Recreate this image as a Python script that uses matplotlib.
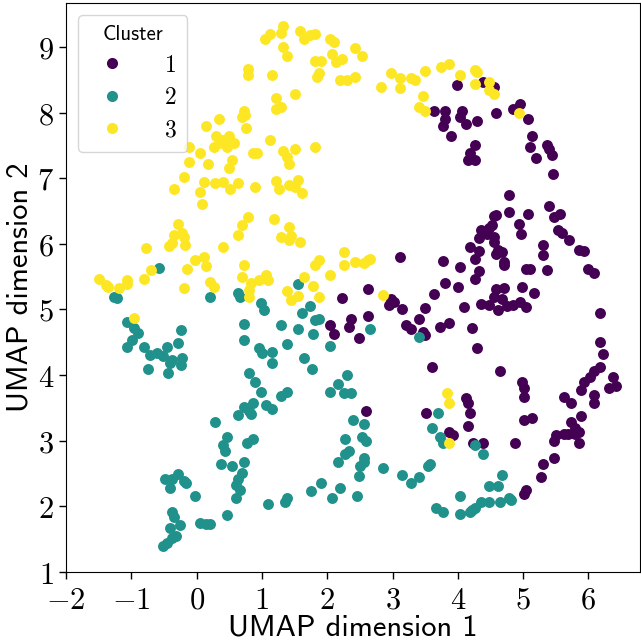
import matplotlib
matplotlib.use("Agg")
import matplotlib.pyplot as plt
from matplotlib.lines import Line2D
from matplotlib.ticker import FuncFormatter, MultipleLocator

# Cluster 1 (purple)
x1 = [3.63, 3.80, 3.80, 3.77, 3.98, 4.39, 4.56, 4.96, 4.85, 5.08, 4.06, 4.03, 4.12, 4.30, 4.58,
      3.90, 5.14, 5.11, 5.36, 5.40, 5.45, 5.20, 4.27, 4.19, 4.16, 4.26, 5.46, 4.79, 5.40, 4.79,
      5.08, 4.55, 4.59, 4.52, 4.48, 4.36, 4.41, 4.33, 4.45, 4.56, 4.56, 4.93, 4.97, 5.48, 5.56,
      5.54, 5.60, 5.71, 5.31, 5.31, 5.85, 5.94, 4.19, 4.33, 4.27, 4.62, 4.67, 4.59, 4.70, 4.70,
      4.03, 4.33, 4.26, 5.04, 5.10, 5.36, 6.00, 6.08, 4.00, 4.59, 4.70, 4.99, 5.16, 4.56, 4.67,
      4.48, 4.62, 4.75, 4.85, 4.96, 5.04, 4.35, 4.10, 3.87, 4.22, 6.17, 6.18, 6.23, 4.29, 4.65,
      4.99, 5.01, 5.02, 6.17, 6.09, 6.02, 5.94, 5.88, 6.38, 6.32, 6.43, 3.11, 3.77, 3.81, 2.63,
      2.23, 2.97, 3.02, 2.94, 3.15, 3.49, 3.63, 2.37, 2.34, 2.62, 2.48, 2.04, 2.10, 3.40, 3.21,
      3.29, 3.47, 3.49, 3.73, 3.60, 2.60, 3.51, 3.86, 4.12, 4.16, 4.18, 4.15, 3.93, 4.24, 4.39,
      4.87, 5.01, 5.13, 5.62, 5.74, 6.08, 6.09, 5.88, 5.74, 5.79, 5.51, 5.48, 5.62, 5.69, 5.79,
      5.85, 5.85, 5.48, 5.31, 5.28, 5.05, 5.01]
y1 = [8.03, 8.02, 7.90, 7.79, 8.42, 8.46, 8.39, 8.13, 8.05, 7.91, 8.02, 7.93, 7.83, 7.87, 7.99,
      7.64, 7.64, 7.48, 7.51, 7.44, 7.36, 7.31, 7.51, 7.39, 7.28, 7.28, 7.07, 6.75, 6.58, 6.49,
      6.46, 6.43, 6.44, 6.29, 6.24, 6.21, 6.17, 6.09, 6.15, 6.11, 6.03, 6.31, 6.15, 6.41, 6.46,
      6.21, 6.17, 6.06, 5.98, 5.83, 5.91, 5.89, 5.95, 5.89, 5.77, 5.91, 5.88, 5.85, 5.72, 5.68,
      5.65, 5.59, 5.46, 5.62, 5.62, 5.60, 5.62, 5.56, 5.34, 5.31, 5.33, 5.34, 5.25, 5.19, 5.16,
      5.07, 4.99, 5.05, 5.07, 5.11, 5.04, 5.08, 5.04, 4.79, 4.72, 4.94, 4.50, 4.32, 4.41, 4.06,
      3.89, 3.80, 3.66, 4.12, 4.07, 3.97, 3.89, 3.78, 3.97, 3.80, 3.83, 5.80, 5.74, 5.40, 5.31,
      5.17, 5.16, 5.11, 5.07, 5.01, 5.02, 5.24, 4.85, 4.73, 4.90, 4.56, 4.76, 4.62, 4.85, 4.76,
      4.70, 4.65, 4.61, 4.73, 4.13, 3.45, 3.43, 3.13, 3.65, 3.58, 3.42, 3.23, 3.08, 2.96, 2.97,
      2.96, 3.31, 3.34, 3.66, 3.57, 3.69, 3.58, 3.37, 3.29, 3.20, 3.09, 3.00, 3.11, 3.11, 3.11,
      2.97, 3.13, 2.74, 2.65, 2.45, 2.25, 2.19]

# Cluster 2 (teal)
x2 = [-0.57, -1.27, -1.22, 0.21, 0.64, 0.66, -1.06, -0.96, -0.89, -0.99, -1.06, -0.24, -0.29, -0.46, -0.81,
      -0.72, -0.61, -0.51, -0.38, -0.23, -0.24, -0.40, -0.75, -0.44, 0.73, 0.73, 0.80, 0.89, 1.55, 1.73,
      1.62, 1.81, 1.87, 1.30, 1.55, 1.78, 0.98, 1.03, 2.04, 1.39, 0.96, 1.15, 1.15, 1.00, 1.65,
      1.76, 2.66, 2.30, 2.17, 2.04, 2.25, 2.37, 1.38, 1.30, 3.41, 0.98, 1.07, 1.15, 0.87, 3.70,
      3.60, 3.72, 3.78, 2.40, 2.56, 2.27, 2.53, 2.60, 2.34, 2.27, 2.16, 2.56, 2.56, 2.50, 2.48,
      2.85, 3.15, 3.28, 3.41, 3.55, 3.58, 1.90, 1.75, 2.19, 2.08, 2.46, 1.10, 1.36, 1.39, 3.67,
      3.78, 4.27, 4.38, 4.67, 4.62, 4.47, 4.03, 4.03, 4.36, 4.47, 4.64, 4.79, 4.82, 4.21, 4.26,
      4.18, 0.87, 0.73, 0.80, 0.84, 0.64, 0.28, 0.47, 0.41, 0.44, 0.77, 0.38, 0.54, 0.72, 0.70,
      0.64, 0.61, 0.66, 0.60, -0.49, -0.38, -0.28, -0.20, -0.17, -0.41, -0.02, 0.46, 0.05, 0.14,
      0.20, -0.37, -0.34, -0.26, -0.41, -0.31, -0.38, -0.46, -0.51]
y2 = [5.63, 5.19, 5.17, 5.19, 5.25, 5.19, 4.81, 4.72, 4.64, 4.53, 4.43, 4.68, 4.49, 4.43, 4.43,
      4.30, 4.33, 4.29, 4.23, 4.26, 4.15, 4.18, 4.10, 4.03, 4.78, 4.53, 4.03, 3.89, 5.39, 5.05,
      4.94, 4.84, 4.85, 4.76, 4.70, 4.62, 5.10, 4.99, 4.44, 4.47, 4.41, 4.35, 4.18, 4.33, 4.26,
      4.10, 4.70, 4.00, 3.87, 3.74, 3.72, 3.72, 3.74, 3.68, 4.58, 3.74, 3.54, 3.48, 3.03, 3.42,
      3.19, 3.05, 2.96, 3.31, 3.26, 3.03, 3.05, 3.00, 2.85, 2.80, 2.67, 2.73, 2.67, 2.62, 2.47,
      2.59, 2.48, 2.35, 2.44, 2.62, 2.65, 2.36, 2.24, 2.28, 2.13, 2.16, 2.04, 2.07, 2.13, 1.98,
      1.92, 2.93, 2.80, 2.48, 2.31, 2.31, 2.16, 1.89, 2.07, 2.07, 2.07, 2.12, 2.09, 1.95, 1.98,
      1.92, 3.58, 3.51, 3.45, 3.40, 3.39, 3.28, 3.05, 2.94, 2.85, 2.97, 2.65, 2.61, 2.68, 2.51,
      2.42, 2.33, 2.25, 2.12, 2.41, 2.42, 2.50, 2.39, 2.35, 2.28, 2.16, 1.87, 1.75, 1.73,
      1.73, 1.92, 1.84, 1.72, 1.67, 1.55, 1.52, 1.44, 1.40]

# Cluster 3 (yellow)
x3 = [0.79, 0.78, 0.73, 0.70, 0.74, 0.75, 0.34, 0.14, 0.29, 0.41, 0.49, 0.35, 0.58, 0.26, 0.46,
      -0.11, 0.05, 0.86, -0.11, 0.18, 0.54, 0.49, -0.20, -0.35, 0.12, 0.05, 0.28, 0.41, 0.64, 0.51,
      0.90, 1.12, 1.04, 1.33, 1.30, 1.58, 1.65, 1.81, 1.73, 2.04, 2.11, 1.33, 1.39, 2.07, 2.14,
      2.23, 1.81, 1.91, 2.43, 2.54, 1.15, 1.87, 1.85, 2.19, 2.31, 2.43, 1.22, 1.50, 1.22, 1.30,
      1.12, 0.92, 1.33, 1.39, 1.41, 1.50, 1.81, 1.21, 1.26, 1.42, 1.56, 1.50, 1.62, 2.98, 3.12,
      3.12, 3.28, 3.34, 3.49, 3.75, 2.83, 3.46, 3.41, 3.49, 3.87, 4.03, 4.27, 4.30, 4.26, 4.47,
      4.48, 4.55, 4.93, 0.09, 0.78, 0.69, 0.63, -0.29, -0.35, -0.23, -0.20, -0.18, -0.43, -0.38,
      -0.77, 0.41, 0.12, -0.03, 0.14, -0.15, -0.70, -0.81, -1.50, -1.39, -1.36, -1.19, -1.06, -1.06,
      0.72, 0.70, 0.21, 0.26, -0.20, 0.84, 0.81, 0.80, -0.96, 1.19, 1.42, 1.30, 1.42, 1.45, 1.59,
      2.25, 2.25, 2.42, 2.57, 2.66, 2.63, 1.87, 1.82, 2.04, 1.65, 1.79, 1.88, 1.07, 1.10, 0.95,
      1.39, 1.55, 1.45, 2.85, 3.87, 3.83, 3.87]
y3 = [8.66, 8.58, 8.03, 7.94, 7.96, 7.76, 7.90, 7.80, 7.65, 7.59, 7.65, 7.54, 7.53, 7.47, 7.48,
      7.47, 7.39, 7.39, 7.25, 7.21, 7.28, 7.15, 7.02, 6.83, 6.95, 6.79, 6.93, 6.95, 6.92, 6.83,
      6.87, 9.20, 9.12, 9.32, 9.21, 9.24, 9.12, 9.20, 9.18, 9.12, 9.07, 9.00, 8.86, 8.89, 8.77,
      8.81, 8.78, 8.78, 8.98, 8.86, 8.58, 8.61, 8.54, 8.49, 8.49, 8.55, 8.23, 8.28, 8.05, 8.08,
      7.59, 7.39, 7.41, 7.33, 7.22, 7.45, 7.47, 6.96, 6.83, 6.90, 6.98, 6.87, 6.78, 8.61, 8.52,
      8.37, 8.52, 8.49, 8.63, 8.69, 8.39, 8.25, 8.09, 8.02, 8.74, 8.57, 8.65, 8.62, 8.43, 8.46,
      8.35, 8.28, 7.99, 6.60, 6.41, 6.29, 6.14, 6.31, 6.14, 6.17, 6.11, 5.98, 5.97, 6.02,
      5.94, 5.95, 5.80, 5.76, 5.66, 5.62, 5.60, 5.46, 5.46, 5.37, 5.34, 5.33, 5.45, 5.39,
      5.68, 5.50, 5.42, 5.34, 5.33, 5.40, 5.30, 5.19, 4.87, 6.38, 6.26, 6.11, 6.06, 6.12, 6.03,
      5.88, 5.68, 5.72, 5.71, 5.77, 5.76, 5.76, 5.68, 5.53, 5.50, 5.36, 5.19, 5.53, 5.45, 5.45,
      5.28, 5.20, 5.14, 5.22, 3.57, 3.72, 2.96]

cluster_labels = ["1", "2", "3"]
colors = ["#440154", "#21918c", "#fde725"]

plt.rcParams["mathtext.fontset"] = "cm"

fig = plt.figure(figsize=(6.41, 6.42), dpi=100)
ax = fig.add_axes([66 / 641, 70 / 642, 574 / 641, 569 / 642])

for xs, ys, c in zip([x1, x2, x3], [y1, y2, y3], colors):
    ax.scatter(xs, ys, s=62, color=c, linewidths=0, zorder=2)

ax.set_xlim(-2, 6.79)
ax.set_ylim(1, 9.67)
ax.xaxis.set_major_locator(MultipleLocator(1))
ax.yaxis.set_major_locator(MultipleLocator(1))
fmt = FuncFormatter(lambda v, p: "$%d$" % round(v))
ax.xaxis.set_major_formatter(fmt)
ax.yaxis.set_major_formatter(fmt)
ax.tick_params(labelsize=22, length=5, width=1)
ax.tick_params(axis="x", pad=5)

ax.set_xlabel("UMAP dimension 1", fontfamily="cmss10", fontsize=22, labelpad=0)
ax.set_ylabel("UMAP dimension 2", fontfamily="cmss10", fontsize=22, labelpad=3)

handles = [Line2D([], [], marker="o", linestyle="", markersize=8, markerfacecolor=c,
                  markeredgewidth=0) for c in colors]
leg = ax.legend(handles, ["$%s$" % l for l in cluster_labels], title="Cluster",
                loc="upper left", fontsize=17, handletextpad=1.2, labelspacing=0.35,
                borderpad=0.45, bbox_to_anchor=(0.0, 1.0))
leg.get_title().set_fontfamily("cmss10")
leg.get_title().set_fontsize(15)

fig.savefig("out.png", dpi=100)
